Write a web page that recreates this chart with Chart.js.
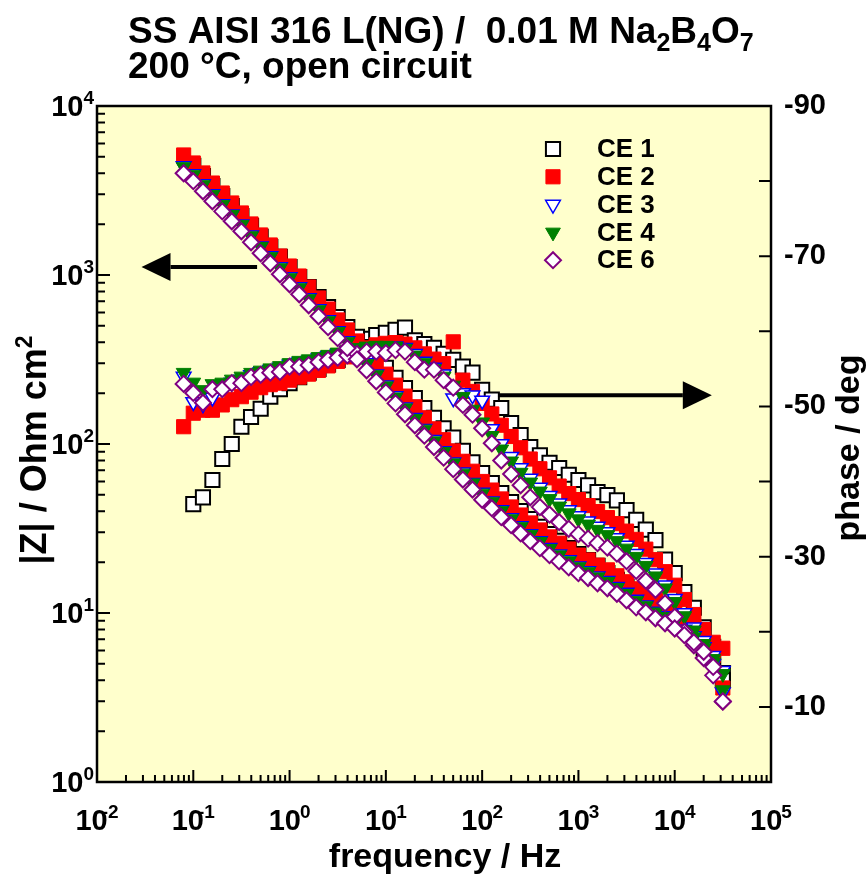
<!DOCTYPE html>
<html>
<head>
<meta charset="utf-8">
<title>SS AISI 316 L(NG) Bode plot</title>
<script src="https://cdn.jsdelivr.net/npm/chart.js@4.4.1/dist/chart.umd.min.js"></script>
<style>
  html, body { margin: 0; padding: 0; background: #fff; }
  canvas { display: block; }
</style>
</head>
<body>
<canvas id="bodeChart" width="867" height="881"></canvas>
<script>
// frequency points (Hz), 10 per decade
const freq = [0.0794, 0.1, 0.126, 0.158, 0.2, 0.251, 0.316, 0.398, 0.501, 0.631, 0.794,
  1, 1.26, 1.58, 2, 2.51, 3.16, 3.98, 5.01, 6.31, 7.94,
  10, 12.6, 15.8, 20, 25.1, 31.6, 39.8, 50.1, 63.1, 79.4,
  100, 126, 158, 200, 251, 316, 398, 501, 631, 794,
  1000, 1260, 1580, 2000, 2510, 3160, 3980, 5010, 6310, 7940,
  10000, 12600, 15800, 20000, 25100, 31600];

// |Z| / Ohm cm2
const zCE1 = [null, 4420, 3850, 3360, 2930, 2560, 2230, 1950, 1680, 1465, 1280,
  1115, 973, 849, 741, 647, 564, 492, 430, 375, 327,
  282, 246, 214, 187, 163, 143, 124, 109, 91, 78,
  67.3, 58.8, 51.3, 45.4, 40.1, 36.0, 32.3, 29.3, 26.7, 24.2,
  22.3, 20.6, 19.0, 17.2, 15.7, 14.3, 13.1, 11.9, 11.0, 10.0,
  9.1, 8.15, 7.2, 6.2, 5.3, 4.0];
const zCE2 = [5130, 4600, 4015, 3500, 3055, 2667, 2328, 2004, 1725, 1505, 1295,
  1130, 986, 849, 731, 629, 542, 473, 407, 350, 301,
  259, 223, 192, 166, 143, 123, 106, 91, 79, 69,
  60, 53.4, 47.3, 42.4, 38.0, 34.1, 31.0, 28.2, 25.9, 23.9,
  22.0, 20.6, 19.2, 18.0, 16.6, 15.3, 13.9, 12.9, 11.9, 11.2,
  10.3, 9.3, 8.3, 7.1, 5.6, 3.6];
const zCE3 = [4410, 3960, 3450, 3010, 2630, 2290, 2000, 1720, 1480, 1295, 1115,
  972, 848, 730, 629, 541, 466, 407, 350, 301, 259,
  223, 192, 165, 143, 123, 106, 91, 78, 68, 59,
  51.6, 45.9, 40.7, 36.5, 32.7, 29.3, 26.7, 24.3, 22.3, 20.6,
  18.9, 17.7, 16.5, 15.5, 14.3, 13.2, 12.0, 11.1, 10.2, 9.6,
  8.9, 8.0, 7.3, 6.3, 5.0, 3.4];
const zCE4 = [4360, 3910, 3410, 2980, 2600, 2270, 1980, 1700, 1470, 1280, 1100,
  960, 838, 722, 621, 535, 461, 402, 346, 298, 256,
  220, 189, 163, 141, 122, 104, 90, 77, 67, 58.6,
  51, 45.4, 40.2, 36.0, 32.3, 29.0, 26.4, 24.0, 22.0, 20.3,
  18.7, 17.5, 16.3, 15.3, 14.1, 13.0, 11.8, 11.0, 10.1, 9.5,
  8.8, 7.9, 7.2, 6.2, 5.1, 3.5];
const zCE6 = [4000, 3590, 3130, 2730, 2380, 2080, 1815, 1563, 1345, 1174, 1010,
  881, 769, 662, 570, 491, 423, 369, 317, 273, 235,
  202, 174, 150, 129, 112, 96, 83, 71, 61.6, 53.8,
  46.8, 41.7, 36.9, 33.1, 29.6, 26.6, 24.2, 22.0, 20.2, 18.6,
  17.2, 16.1, 15.0, 14.0, 13.0, 11.9, 10.8, 10.1, 9.3, 8.7,
  8.1, 7.4, 6.7, 5.9, 4.8, 3.0];

// phase / deg
const phCE1 = [null, -37.0, -37.9, -40.2, -43.0, -45.0, -47.3, -48.6, -49.7, -51.3, -52.3,
  -53.1, -53.9, -54.5, -55.0, -55.6, -56.2, -57.0, -58.0, -59.0, -59.5,
  -59.8, -60.2, -60.5, -58.8, -58.3, -57.8, -57.0, -56.2, -55.3, -54.5,
  -52.2, -50.9, -49.8, -47.8, -46.2, -44.6, -43.5, -42.5, -41.8, -40.9,
  -40.2, -39.5, -38.6, -38.2, -37.5, -36.2, -34.9, -33.6, -32.2, -29.6,
  -27.8, -25.3, -23.2, -20.6, -18.0, -14.5];
const phCE2 = [-47.3, -49.1, -49.5, -49.5, -50.2, -50.9, -51.3, -51.9, -52.5, -52.9, -53.1,
  -53.5, -53.9, -54.3, -54.8, -55.4, -56.0, -56.6, -57.2, -57.8, -58.2,
  -58.4, -58.5, -58.3, -57.8, -57.0, -56.3, -55.7, -58.6, -53.5, -52.0,
  -50.4, -49.0, -47.5, -46.0, -44.5, -43.0, -41.7, -40.5, -39.4, -38.4,
  -37.6, -36.8, -36.0, -35.2, -34.4, -33.4, -32.3, -31.0, -29.6, -28.0,
  -26.2, -24.3, -22.3, -20.3, -18.6, -17.8];
const phCE3 = [-54.0, -50.6, -50.3, -51.2, -52.8, -53.2, -53.6, -54.2, -54.6, -54.9, -55.2,
  -55.6, -55.9, -56.1, -56.4, -56.7, -57.0, -57.3, -57.6, -56.2, -57.9,
  -58.0, -58.0, -57.8, -57.0, -56.0, -55.2, -54.3, -51.1, -51.8, -51.5,
  -50.8, -47.0, -45.0, -43.3, -41.8, -40.4, -39.2, -38.1, -37.1, -36.2,
  -35.4, -34.7, -34.0, -33.3, -32.5, -31.5, -30.4, -29.2, -27.8, -26.2,
  -24.4, -22.5, -20.6, -18.8, -16.8, -14.8];
const phCE4 = [-54.5, -53.2, -52.2, -53.0, -53.2, -53.6, -54.0, -54.5, -54.8, -55.1, -55.4,
  -55.8, -56.1, -56.3, -56.6, -56.9, -57.2, -57.5, -57.8, -58.0, -58.1,
  -58.1, -58.0, -57.7, -56.8, -55.8, -55.0, -54.0, -52.8, -51.3, -49.6,
  -47.9, -46.1, -44.3, -42.7, -41.2, -39.9, -38.7, -37.7, -36.7, -35.8,
  -35.0, -34.3, -33.6, -32.9, -32.1, -31.1, -30.0, -28.8, -27.4, -25.8,
  -24.0, -22.1, -20.2, -18.4, -16.4, -14.4];
const phCE6 = [-53.0, -51.8, -50.5, -52.3, -52.3, -53.1, -53.1, -53.9, -54.2, -54.5, -54.6,
  -55.3, -55.3, -55.5, -55.9, -56.2, -56.5, -56.8, -57.0, -57.3, -57.3,
  -57.1, -57.5, -57.3, -55.9, -54.9, -54.9, -53.5, -52.5, -50.2, -48.9,
  -47.1, -45.1, -42.8, -41.0, -39.5, -37.9, -36.6, -35.6, -34.6, -33.7,
  -33.0, -32.4, -31.8, -31.2, -30.4, -29.4, -28.1, -26.8, -25.6, -23.8,
  -22.0, -20.0, -18.2, -16.5, -14.2, -10.7];

// axis ticks
const freqTicks = [0.01, 0.1, 1, 10, 100, 1000, 10000, 100000];
const freqTickExp = ['-2', '-1', '0', '1', '2', '3', '4', '5'];
const zTicks = [1, 10, 100, 1000, 10000];
const zTickExp = ['0', '1', '2', '3', '4'];
const phaseTicks = [-90, -70, -50, -30, -10];
const phaseMinor = [-80, -60, -40, -20, 0];

const FONT = '"Liberation Sans", Arial, Helvetica, sans-serif';

const series = [
    { label: 'CE 1', z: zCE1, ph: phCE1, style: 'rect', radius: 10, rot: 0, fill: '#ffffff', line: '#000000', bw: 2 },
    { label: 'CE 2', z: zCE2, ph: phCE2, style: 'rect', radius: 10, rot: 0, fill: '#ff0000', line: '#ff0000', bw: 1 },
    { label: 'CE 3', z: zCE3, ph: phCE3, style: 'triangle', radius: 8.5, rot: 180, fill: '#ffffff', line: '#0000ff', bw: 1.5 },
    { label: 'CE 4', z: zCE4, ph: phCE4, style: 'triangle', radius: 8.5, rot: 180, fill: '#008000', line: '#008000', bw: 1 },
    { label: 'CE 6', z: zCE6, ph: phCE6, style: 'rectRot', radius: 8, rot: 0, fill: '#ffffff', line: '#800080', bw: 2 }
];

function toPoints(values) {
    return freq.map((f, i) => ({ x: f, y: values[i] })).filter(p => p.y !== null);
}

const datasets = [];
series.forEach((s, i) => {
    const common = {
        label: s.label,
        showLine: false,
        pointStyle: s.style,
        pointRadius: s.radius,
        pointRotation: s.rot,
        pointBackgroundColor: s.fill,
        pointBorderColor: s.line,
        pointBorderWidth: s.bw,
        order: series.length - i   // CE 1 at the bottom, CE 6 on top
    };
    datasets.push(Object.assign({}, common, { data: toPoints(s.z), yAxisID: 'y' }));
    datasets.push(Object.assign({}, common, { data: toPoints(s.ph), yAxisID: 'y2' }));
});

function font(size) {
    return 'bold ' + size + 'px ' + FONT;
}

// "10" with a raised exponent
function drawPower(ctx, base, exp, x, y, align, size, supSize, overlap) {
    ctx.font = font(size);
    const wb = ctx.measureText(base).width;
    ctx.font = font(supSize);
    const we = ctx.measureText(exp).width;
    const total = wb + we - overlap;
    let left = x;
    if (align === 'center') left = x - total / 2;
    if (align === 'right') left = x - total;
    ctx.textAlign = 'left';
    ctx.textBaseline = 'alphabetic';
    ctx.font = font(size);
    ctx.fillText(base, left, y);
    ctx.font = font(supSize);
    ctx.fillText(exp, left + wb - overlap, y - size * 0.42);
}

// text made of pieces, pieces flagged 1 are subscripts, 2 superscripts
function drawPieces(ctx, pieces, x, y, size, smallSize, align) {
    let total = 0;
    pieces.forEach(p => {
        ctx.font = font(p[1] ? smallSize : size);
        total += ctx.measureText(p[0]).width;
    });
    let left = align === 'center' ? x - total / 2 : x;
    ctx.textAlign = 'left';
    ctx.textBaseline = 'alphabetic';
    pieces.forEach(p => {
        ctx.font = font(p[1] ? smallSize : size);
        let dy = 0;
        if (p[1] === 1) dy = size * 0.22;
        if (p[1] === 2) dy = -size * 0.38;
        ctx.fillText(p[0], left, y + dy);
        left += ctx.measureText(p[0]).width;
    });
}

function drawArrow(ctx, x1, y1, x2, y2) {
    const dir = Math.sign(x2 - x1);
    const headLen = 29, headHalf = 14;
    ctx.beginPath();
    ctx.lineWidth = 4;
    ctx.moveTo(x1, y1);
    ctx.lineTo(x2 - dir * headLen, y2);
    ctx.stroke();
    ctx.beginPath();
    ctx.moveTo(x2, y2);
    ctx.lineTo(x2 - dir * headLen, y2 - headHalf);
    ctx.lineTo(x2 - dir * headLen, y2 + headHalf);
    ctx.closePath();
    ctx.fill();
}

const bodeFrame = {
    id: 'bodeFrame',
    beforeDraw(chart) {
        const { ctx, chartArea: a } = chart;
        ctx.save();
        ctx.fillStyle = '#ffffff';
        ctx.fillRect(0, 0, chart.width, chart.height);
        ctx.fillStyle = '#ffffcc';
        ctx.fillRect(a.left, a.top, a.right - a.left, a.bottom - a.top);
        ctx.restore();
    },
    afterDraw(chart) {
        const { ctx, chartArea: a } = chart;
        const sx = chart.scales.x, sy = chart.scales.y, sp = chart.scales.y2;
        ctx.save();
        ctx.strokeStyle = '#000';
        ctx.fillStyle = '#000';
        ctx.lineWidth = 2;

        // ticks, pointing into the plot
        ctx.beginPath();
        freqTicks.forEach((t, i) => {
            const x = sx.getPixelForValue(t);
            ctx.moveTo(x, a.bottom); ctx.lineTo(x, a.bottom - 12);
            if (i < freqTicks.length - 1) {
                for (let m = 2; m < 10; m++) {
                    const xm = sx.getPixelForValue(t * m);
                    ctx.moveTo(xm, a.bottom); ctx.lineTo(xm, a.bottom - 7);
                }
            }
        });
        zTicks.forEach((t, i) => {
            const y = sy.getPixelForValue(t);
            ctx.moveTo(a.left, y); ctx.lineTo(a.left + 13, y);
            if (i < zTicks.length - 1) {
                for (let m = 2; m < 10; m++) {
                    const ym = sy.getPixelForValue(t * m);
                    ctx.moveTo(a.left, ym); ctx.lineTo(a.left + 8, ym);
                }
            }
        });
        phaseTicks.concat(phaseMinor).forEach(t => {
            const y = sp.getPixelForValue(t);
            ctx.moveTo(a.right, y); ctx.lineTo(a.right - 12, y);
        });
        ctx.stroke();

        // frame
        ctx.lineWidth = 2.5;
        ctx.strokeRect(a.left, a.top, a.right - a.left, a.bottom - a.top);

        // tick labels
        freqTicks.forEach((t, i) => {
            const neg = freqTickExp[i].charAt(0) === '-';
            drawPower(ctx, '10', freqTickExp[i], sx.getPixelForValue(t), a.bottom + 48, 'center', 29, 19, neg ? 6 : 1);
        });
        zTicks.forEach((t, i) => {
            drawPower(ctx, '10', zTickExp[i], a.left - 3, sy.getPixelForValue(t) + 10, 'right', 29, 19, 0);
        });
        ctx.font = font(29);
        ctx.textAlign = 'left';
        ctx.textBaseline = 'middle';
        phaseTicks.forEach(t => {
            ctx.fillText(String(t), a.right + 13, sp.getPixelForValue(t));
        });

        // titles
        drawPieces(ctx, [['SS AISI 316 L(NG) /  0.01 M Na', 0], ['2', 1], ['B', 0], ['4', 1], ['O', 0], ['7', 1]],
            128, 43, 37, 25, 'left');
        drawPieces(ctx, [['200 \u00b0C, open circuit', 0]], 128, 78, 37, 25, 'left');
        drawPieces(ctx, [['frequency / Hz', 0]], (a.left + a.right) / 2 + 11, 867, 34, 22, 'center');

        ctx.save();
        ctx.translate(46, 450);
        ctx.rotate(-Math.PI / 2);
        drawPieces(ctx, [['|Z| / Ohm cm', 0], ['2', 2]], 0, 0, 36, 23, 'center');
        ctx.restore();

        ctx.save();
        ctx.translate(859, 448);
        ctx.rotate(-Math.PI / 2);
        drawPieces(ctx, [['phase / deg', 0]], 0, 0, 34, 22, 'center');
        ctx.restore();

        // arrows showing which axis each curve belongs to
        const yZ = sy.getPixelForValue(1115);
        drawArrow(ctx, sx.getPixelForValue(0.46), yZ, sx.getPixelForValue(0.029), yZ);
        const yP = sp.getPixelForValue(-51.5);
        drawArrow(ctx, sx.getPixelForValue(146), yP, sx.getPixelForValue(24300), yP);

        // legend
        const lx = a.left + 456, ly = a.top + 43, step = 27.8;
        series.forEach((s, i) => {
            const y = ly + i * step;
            ctx.fillStyle = s.fill;
            ctx.strokeStyle = s.line;
            ctx.lineWidth = s.bw;
            Chart.helpers.drawPoint(ctx, { pointStyle: s.style, rotation: s.rot, radius: s.radius, borderWidth: s.bw }, lx, y);
            ctx.fillStyle = '#000';
            ctx.font = font(26);
            ctx.textAlign = 'left';
            ctx.textBaseline = 'middle';
            ctx.fillText(s.label, lx + 44, y + 1);
        });
        ctx.restore();
    }
};

new Chart(document.getElementById('bodeChart').getContext('2d'), {
    type: 'scatter',
    data: { datasets: datasets },
    options: {
        responsive: false,
        animation: false,
        events: [],
        layout: { padding: { left: 97, right: 96, top: 106, bottom: 99 } },
        scales: {
            x: { type: 'logarithmic', min: 0.01, max: 100000, display: false },
            y: { type: 'logarithmic', min: 1, max: 10000, display: false },
            y2: { type: 'linear', min: -90, max: 0, reverse: true, display: false }
        },
        plugins: {
            legend: { display: false },
            tooltip: { enabled: false }
        }
    },
    plugins: [bodeFrame]
});
</script>
</body>
</html>
